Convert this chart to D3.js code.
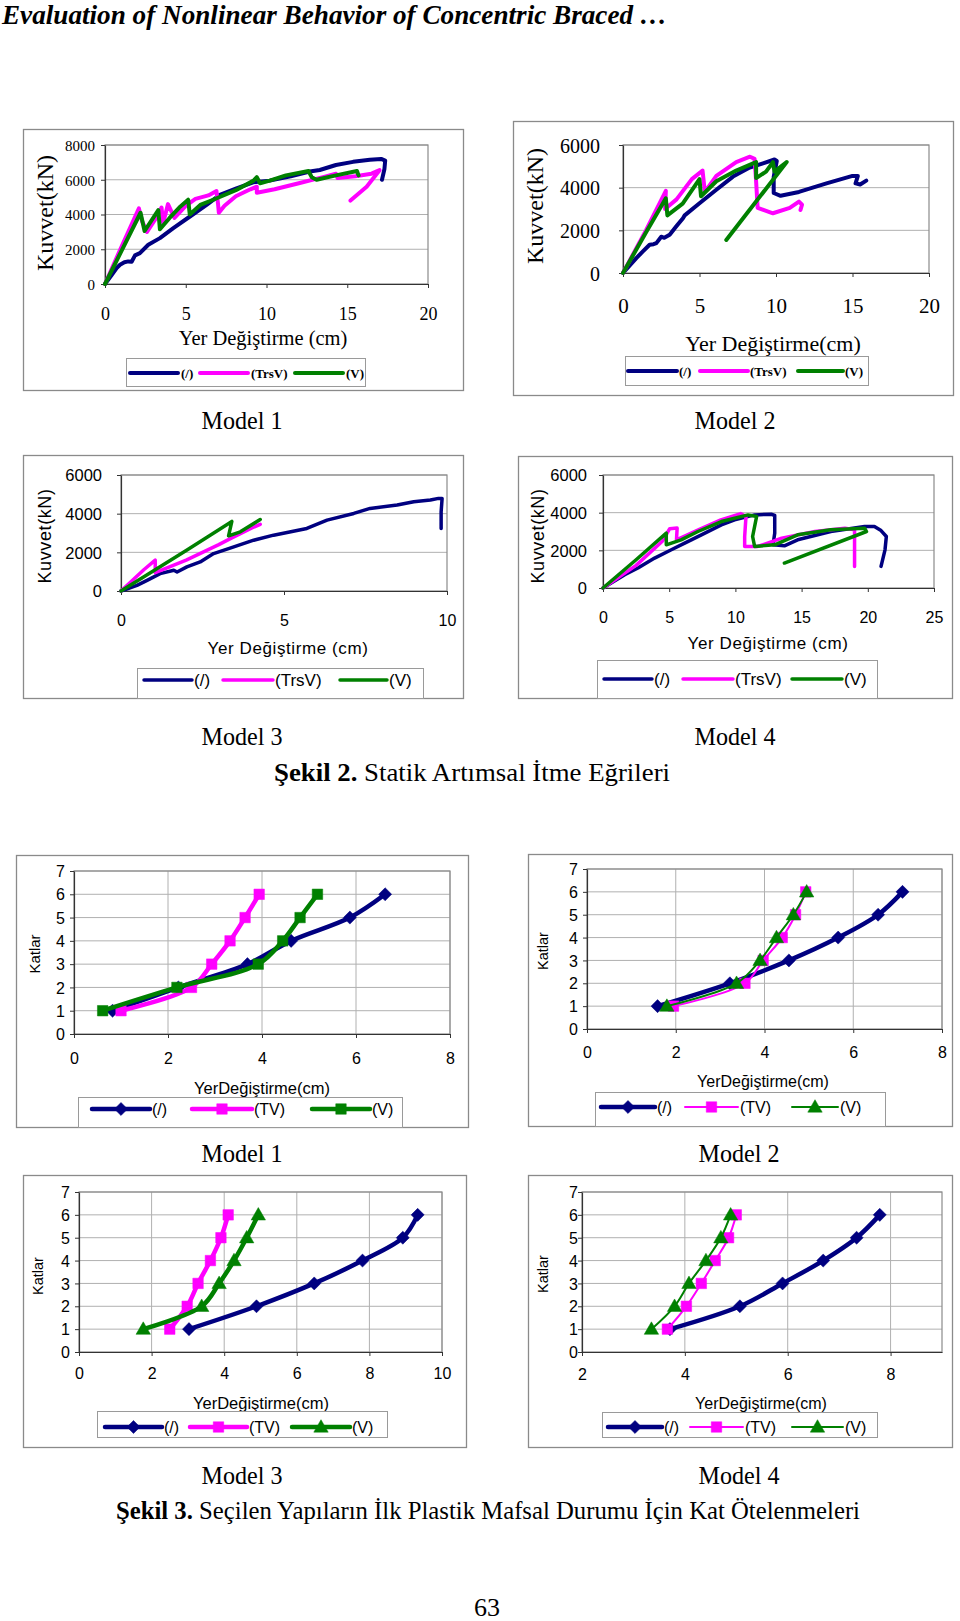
<!DOCTYPE html>
<html><head><meta charset="utf-8">
<script src="https://cdn.jsdelivr.net/npm/d3@7"></script>
<style>body{margin:0;background:#fff}svg{display:block}</style>
</head><body>
<svg id="c" width="960" height="1621"></svg>
<script>
// ---------- DATA ----------
const seriesNames = ["(/)", "(TrsV)", "(V)"];
const seriesNamesTV = ["(/)", "(TV)", "(V)"];
const colors = ["#000080", "#ff00ff", "#008000"];

// Pushover curves: [displacement (cm), force (kN)]
const m1Diag = [[0,0],[0.4,500],[0.72,920],[0.93,1110],[1.2,1250],[1.44,1300],[1.65,1280],[1.86,1650],[2.16,1780],[2.68,2260],[3.4,2640],[4.23,3215],[5.26,3885],[6.29,4555],[7.11,5130],[8.14,5510],[9.18,5850],[10.2,5950],[11.5,6200],[12.68,6470],[13.3,6560],[14.3,6850],[15.36,7030],[16.4,7150],[17.1,7200],[17.35,7100],[17.3,6600],[17.15,6000]];
const m1TrsV = [[0,0],[1.0,2100],[2.1,4350],[2.3,3600],[2.6,3000],[3.1,3700],[3.5,4400],[3.6,3500],[3.9,4600],[4.3,3800],[5.0,4500],[5.6,4900],[6.4,5100],[6.9,5350],[7.0,4600],[7.05,4100],[7.4,4500],[8.1,5050],[9.0,5450],[9.4,5600],[9.4,5250],[10.5,5450],[12,5800],[13.5,6150],[14.3,6350],[14.4,6100],[15.5,6200],[16.5,6350],[17.0,6550],[16.2,5600],[15.2,4800]];
const m1V = [[0,0],[1.1,2050],[2.2,4100],[2.45,3050],[3.3,4250],[3.4,3150],[4.0,3800],[4.6,4400],[5.15,4850],[5.25,4000],[5.9,4550],[6.7,4850],[8.1,5400],[9.2,5950],[9.4,6150],[9.6,5800],[10.2,5950],[11.2,6250],[12.6,6500],[12.8,6150],[13.1,6000],[14.3,6250],[15.6,6500],[15.7,6250]];

const m2Diag = [[0,0],[0.87,700],[1.3,1010],[1.74,1325],[2.0,1350],[2.18,1400],[2.5,1700],[2.7,1650],[3.05,1790],[3.5,2200],[3.92,2570],[4.03,2700],[5.0,3270],[6.1,3900],[7.19,4520],[8.28,4940],[9.15,5140],[9.9,5320],[10.05,5250],[9.85,4500],[9.85,3750],[10.3,3620],[11.5,3800],[13.3,4200],[15.0,4550],[15.35,4550],[15.2,4200],[15.5,4150],[15.9,4330]];
const m2TrsV = [[0,0],[1.5,2000],[2.8,3850],[2.75,3000],[3.5,3450],[4.5,4400],[5.2,4800],[5.35,3800],[6.1,4550],[7.4,5200],[8.3,5450],[8.6,5350],[8.7,4300],[8.8,3050],[9.8,2800],[10.9,3050],[11.5,3350],[11.7,3200],[11.6,2950]];
const m2V = [[0,0],[1.5,1900],[2.8,3500],[2.9,2700],[3.9,3250],[5.0,4400],[5.1,3600],[6.1,4300],[7.4,4800],[8.7,5200],[8.7,4450],[9.35,4750],[9.8,5200],[9.9,4750],[10.7,5200],[6.75,1550]];

const m3Diag = [[0,0],[0.49,294],[0.8,553],[1.2,900],[1.62,1072],[1.72,985],[2.02,1245],[2.43,1504],[2.84,1937],[3.46,2283],[4.07,2628],[4.68,2888],[5.7,3234],[6.32,3666],[7.14,4012],[7.64,4271],[8.47,4444],[8.98,4617],[9.49,4703],[9.74,4790],[9.85,4790],[9.82,4098],[9.82,3234]];
const m3TrsV = [[0,0],[0.7,1100],[1.05,1600],[1.05,950],[2.0,1600],[3.0,2400],[3.4,2750],[4.0,3250],[4.27,3450]];
const m3V = [[0,0],[1.0,1050],[2.0,2100],[3.4,3600],[3.3,2850],[3.66,3060],[4.27,3700]];

const m4Diag = [[0,0],[1.64,706],[2.64,1059],[3.9,1588],[5.16,2029],[6.17,2382],[7.43,2824],[8.94,3353],[9.94,3618],[11.45,3882],[12.7,3920],[12.97,3850],[12.97,2912],[12.84,2294],[13.7,2241],[14.7,2559],[17.2,3000],[19.76,3265],[20.5,3265],[21.0,3050],[21.4,2735],[21.3,2029],[21.0,1147]];
const m4TrsV = [[0,0],[2.5,1200],[4.5,2500],[5.04,3150],[5.6,3180],[5.55,2560],[7.2,3088],[8.9,3618],[10.4,3950],[10.8,3800],[10.7,2735],[10.7,2206],[11.7,2206],[13.5,2647],[16.0,3000],[18.27,3176],[19.0,3088],[19.0,2382],[19.0,1147]];
const m4V = [[0,0],[2.5,1500],[4.78,2912],[4.78,2294],[5.9,2559],[7.17,3000],[8.94,3529],[10.95,3882],[11.6,3794],[11.3,2735],[11.45,2206],[12.97,2294],[14.7,2824],[17.2,3088],[19.76,3176],[19.9,3000],[13.7,1324]];

// Story drifts: stories and displacement (cm) per story
const stories = [1,2,3,4,5,6];
const d1Diag = [0.82,2.22,3.69,4.62,5.87,6.62];
const d1TV   = [1.0,2.5,2.93,3.32,3.64,3.94];
const d1V    = [0.61,2.19,3.92,4.44,4.81,5.18];
const d2Diag = [1.59,3.22,4.55,5.66,6.56,7.11];
const d2TV   = [1.95,3.56,3.97,4.4,4.7,4.93];
const d2V    = [1.8,3.37,3.9,4.27,4.65,4.95];
const d3Diag = [3.03,4.89,6.48,7.81,8.92,9.33];
const d3TV   = [2.5,2.98,3.28,3.62,3.91,4.11];
const d3V    = [1.77,3.38,3.86,4.27,4.62,4.94];
const d4Diag = [3.71,5.07,5.9,6.69,7.34,7.79];
const d4TV   = [3.66,4.03,4.32,4.59,4.85,5.0];
const d4V    = [3.35,3.8,4.08,4.41,4.7,4.89];

const forceTicks8000 = [0,2000,4000,6000,8000];
const forceTicks6000 = [0,2000,4000,6000];
const storyTicks = [0,1,2,3,4,5,6,7];

// ---------- DRAWING ----------
const svg = d3.select("#c");
const SERIF = "'Liberation Serif','Times New Roman',serif";
const SANS = "'Liberation Sans',Arial,sans-serif";

function marker(g, type, cx, cy, color) {
  if (type === "diamond") {
    g.append("path").attr("d", d3.symbol(d3.symbolSquare, 85)())
      .attr("transform", `translate(${cx},${cy}) rotate(45)`).attr("fill", color).attr("stroke", color).attr("stroke-width", 0.5);
  } else if (type === "square") {
    g.append("path").attr("d", d3.symbol(d3.symbolSquare, 110)())
      .attr("transform", `translate(${cx},${cy})`).attr("fill", color).attr("stroke", color).attr("stroke-width", 0.5);
  } else if (type === "triangle") {
    g.append("path").attr("d", d3.symbol(d3.symbolTriangle, 90)())
      .attr("transform", `translate(${cx},${cy+1})`).attr("fill", color).attr("stroke", color).attr("stroke-width", 0.5);
  }
}

function panel(c) {
  const g = svg.append("g");
  const [bx0, by0, bx1, by1] = c.box;
  g.append("rect").attr("x", bx0 + 0.5).attr("y", by0 + 0.5).attr("width", bx1 - bx0).attr("height", by1 - by0)
    .attr("fill", "#fff").attr("stroke", "#8a8a8a").attr("stroke-width", 1.3);
  const [L, T, R, B] = c.plot;
  const x = d3.scaleLinear().domain(c.xDomain).range([L, R]);
  const y = d3.scaleLinear().domain(c.yDomain).range([B, T]);

  // grid
  g.selectAll(null).data(c.yTicks.filter(v => v !== c.yDomain[0])).join("line")
    .attr("x1", L).attr("x2", R).attr("y1", d => y(d)).attr("y2", d => y(d))
    .attr("stroke", "#b0b0b0").attr("stroke-width", 1);
  if (c.vgrid) {
    g.selectAll(null).data(c.xTicks.filter(v => v !== c.xDomain[0])).join("line")
      .attr("y1", T).attr("y2", B).attr("x1", d => x(d)).attr("x2", d => x(d))
      .attr("stroke", "#b0b0b0").attr("stroke-width", 1);
  }
  g.append("rect").attr("x", L).attr("y", T).attr("width", R - L).attr("height", B - T)
    .attr("fill", "none").attr("stroke", "#8a8a8a").attr("stroke-width", 1.2);

  // axes
  const ax = g.append("g").attr("transform", `translate(0,${B})`)
    .call(d3.axisBottom(x).tickValues(c.xTicks).tickSize(4).tickSizeOuter(0).tickFormat(d3.format("d")));
  ax.select(".domain").attr("stroke", "#333").attr("stroke-width", 1.2);
  ax.selectAll(".tick line").attr("stroke", "#333");
  ax.selectAll("text").attr("y", c.xTickY - B).attr("dy", "0.35em").attr("fill", "#000")
    .style("font-family", c.font).style("font-size", c.xTickFs + "px");
  const ay = g.append("g").attr("transform", `translate(${L},0)`)
    .call(d3.axisLeft(y).tickValues(c.yTicks).tickSize(4).tickSizeOuter(0).tickFormat(d3.format("d")));
  ay.select(".domain").attr("stroke", "#333").attr("stroke-width", 1.2);
  ay.selectAll(".tick line").attr("stroke", "#333");
  ay.selectAll("text").attr("x", c.yTickRight - L).attr("dy", "0.35em").attr("fill", "#000")
    .style("font-family", c.font).style("font-size", c.yTickFs + "px");

  // series
  c.series.forEach(s => {
    const line = d3.line().x(d => x(d[0])).y(d => y(d[1])).curve(s.curve || d3.curveLinear);
    g.append("path").datum(s.data).attr("d", line).attr("fill", "none")
      .attr("stroke", s.color).attr("stroke-width", s.w)
      .attr("stroke-linejoin", "round").attr("stroke-linecap", "round");
    if (s.marker) s.data.forEach(d => marker(g, s.marker, x(d[0]), y(d[1]), s.color));
  });

  // axis titles
  g.append("text").attr("x", c.xLabel[1]).attr("y", c.xLabel[2]).attr("dy", "0.35em")
    .attr("text-anchor", "middle").style("font-family", c.font).style("font-size", c.xLabelFs + "px")
    .style("letter-spacing", (c.ls || 0) + "px").text(c.xLabel[0]);
  g.append("text").attr("transform", `translate(${c.yLabel[1]},${c.yLabel[2]}) rotate(-90)`).attr("dy", "0.35em")
    .attr("text-anchor", "middle").style("font-family", c.font).style("font-size", c.yLabelFs + "px")
    .style("letter-spacing", (c.ls || 0) + "px").text(c.yLabel[0]);

  // legend
  const [lx0, ly0, lx1, ly1] = c.legendBox;
  g.append("rect").attr("x", lx0 + 0.5).attr("y", ly0 + 0.5).attr("width", lx1 - lx0).attr("height", ly1 - ly0)
    .attr("fill", "#fff").attr("stroke", "#9a9a9a").attr("stroke-width", 1);
  c.legend.forEach((e, i) => {
    const s = c.series[i];
    g.append("line").attr("x1", e[0]).attr("x2", e[1]).attr("y1", c.legendY).attr("y2", c.legendY)
      .attr("stroke", s.color).attr("stroke-width", s.w).attr("stroke-linecap", "round");
    if (s.marker) marker(g, s.marker, (e[0] + e[1]) / 2, c.legendY, s.color);
    g.append("text").attr("x", e[2]).attr("y", c.legendY).attr("dy", "0.35em")
      .style("font-family", c.font).style("font-size", c.legendFs + "px")
      .style("font-weight", c.legendBold ? "bold" : "normal").text(s.name);
  });
}

function pushSeries(arrs, w) {
  return arrs.map((a, i) => ({ name: seriesNames[i], data: a, color: colors[i], w: w }));
}
function driftSeries(arrs, widths, markers) {
  return arrs.map((a, i) => ({ name: seriesNamesTV[i], data: a.map((v, k) => [v, stories[k]]),
    color: colors[i], w: widths[i], marker: markers[i], curve: d3.curveCatmullRom.alpha(0.5) }));
}

// ---- Şekil 2 panels ----
panel({ box: [23,129,463,390], plot: [105,145,428,284], xDomain: [0,20], xTicks: [0,5,10,15,20],
  yDomain: [0,8000], yTicks: forceTicks8000, font: SERIF, xTickFs: 18, xTickY: 314, yTickFs: 15, yTickRight: 95,
  xLabel: ["Yer Değiştirme (cm)", 263, 338], xLabelFs: 20.5, yLabel: ["Kuvvet(kN)", 45, 213], yLabelFs: 24,
  series: pushSeries([m1Diag, m1TrsV, m1V], 4),
  legendBox: [126,358,365,386], legendY: 373, legendFs: 13, legendBold: true,
  legend: [[130,178,181],[200,248,251],[295,343,346]] });

panel({ box: [513,121,953,395], plot: [623,145,929,273], xDomain: [0,20], xTicks: [0,5,10,15,20],
  yDomain: [0,6000], yTicks: forceTicks6000, font: SERIF, xTickFs: 21, xTickY: 306, yTickFs: 20, yTickRight: 600,
  xLabel: ["Yer Değiştirme(cm)", 773, 343], xLabelFs: 22, yLabel: ["Kuvvet(kN)", 535, 206], yLabelFs: 24,
  series: pushSeries([m2Diag, m2TrsV, m2V], 4),
  legendBox: [625,356,868,385], legendY: 371, legendFs: 13, legendBold: true,
  legend: [[628,677,679],[700,748,750],[798,843,845]] });

panel({ box: [23,455,463,698], plot: [121,475,447,591], xDomain: [0,10], xTicks: [0,5,10],
  yDomain: [0,6000], yTicks: forceTicks6000, font: SANS, xTickFs: 16, xTickY: 620, yTickFs: 16.5, yTickRight: 102,
  xLabel: ["Yer Değiştirme (cm)", 288, 648], xLabelFs: 17, ls: 0.6, yLabel: ["Kuvvet(kN)", 45, 536], yLabelFs: 18,
  series: pushSeries([m3Diag, m3TrsV, m3V], 3.5),
  legendBox: [137,668,423,698], legendY: 680, legendFs: 17, legendBold: false,
  legend: [[144,192,194],[223,273,275],[340,387,389]] });

panel({ box: [518,456,952,698], plot: [603,475,934,588], xDomain: [0,25], xTicks: [0,5,10,15,20,25],
  yDomain: [0,6000], yTicks: forceTicks6000, font: SANS, xTickFs: 16, xTickY: 617, yTickFs: 16.5, yTickRight: 587,
  xLabel: ["Yer Değiştirme (cm)", 768, 643], xLabelFs: 17, ls: 0.6, yLabel: ["Kuvvet(kN)", 538, 536], yLabelFs: 18,
  series: pushSeries([m4Diag, m4TrsV, m4V], 3.5),
  legendBox: [597,660,877,698], legendY: 679, legendFs: 17, legendBold: false,
  legend: [[604,652,654],[683,733,735],[792,842,844]] });

// ---- Şekil 3 panels ----
panel({ box: [16,855,468,1127], plot: [74,871,450,1034], xDomain: [0,8], xTicks: [0,2,4,6,8], vgrid: true,
  yDomain: [0,7], yTicks: storyTicks, font: SANS, xTickFs: 16, xTickY: 1058, yTickFs: 16, yTickRight: 65,
  xLabel: ["YerDeğiştirme(cm)", 262, 1088], xLabelFs: 16.5, yLabel: ["Katlar", 35, 954], yLabelFs: 15,
  series: driftSeries([d1Diag, d1TV, d1V], [4.5,4.5,4.5], ["diamond","square","square"]),
  legendBox: [78,1097,402,1127], legendY: 1109, legendFs: 16, legendBold: false,
  legend: [[92,150,152],[192,252,254],[312,370,372]] });

panel({ box: [528,854,952,1126], plot: [587,869,942,1029], xDomain: [0,8], xTicks: [0,2,4,6,8], vgrid: true,
  yDomain: [0,7], yTicks: storyTicks, font: SANS, xTickFs: 16, xTickY: 1052, yTickFs: 16, yTickRight: 578,
  xLabel: ["YerDeğiştirme(cm)", 763, 1081], xLabelFs: 16, yLabel: ["Katlar", 543, 951], yLabelFs: 14.5,
  series: driftSeries([d2Diag, d2TV, d2V], [4.5,2,2], ["diamond","square","triangle"]),
  legendBox: [595,1092,885,1126], legendY: 1107, legendFs: 16, legendBold: false,
  legend: [[601,655,657],[685,738,740],[792,838,840]] });

panel({ box: [23,1175,466,1447], plot: [79,1192,442,1352], xDomain: [0,10], xTicks: [0,2,4,6,8,10], vgrid: true,
  yDomain: [0,7], yTicks: storyTicks, font: SANS, xTickFs: 16, xTickY: 1373, yTickFs: 16, yTickRight: 70,
  xLabel: ["YerDeğiştirme(cm)", 261, 1403], xLabelFs: 16.5, yLabel: ["Katlar", 38, 1276], yLabelFs: 14.5,
  series: driftSeries([d3Diag, d3TV, d3V], [4.5,4.5,4.5], ["diamond","square","triangle"]),
  legendBox: [97,1411,387,1437], legendY: 1427, legendFs: 16, legendBold: false,
  legend: [[105,162,164],[190,247,249],[292,350,352]] });

panel({ box: [528,1175,952,1447], plot: [582,1192,942,1352], xDomain: [2,9], xTicks: [2,4,6,8], vgrid: true,
  yDomain: [0,7], yTicks: storyTicks, font: SANS, xTickFs: 16, xTickY: 1374, yTickFs: 16, yTickRight: 578,
  xLabel: ["YerDeğiştirme(cm)", 761, 1403], xLabelFs: 16, yLabel: ["Katlar", 543, 1274], yLabelFs: 14.5,
  series: driftSeries([d4Diag, d4TV, d4V], [4.5,2,2], ["diamond","square","triangle"]),
  legendBox: [602,1412,877,1437], legendY: 1427, legendFs: 16, legendBold: false,
  legend: [[608,662,664],[690,743,745],[792,843,845]] });

// ---------- PAGE TEXT ----------
svg.append("text").attr("x", 2).attr("y", 24).attr("textLength", 665).attr("lengthAdjust", "spacingAndGlyphs")
  .style("font-family", SERIF).style("font-size", "27px").style("font-weight", "bold").style("font-style", "italic")
  .text("Evaluation of Nonlinear Behavior of Concentric Braced …");

const modelLabels = [["Model 1",242,429],["Model 2",735,429],["Model 3",242,745],["Model 4",735,745],
                     ["Model 1",242,1162],["Model 2",739,1162],["Model 3",242,1484],["Model 4",739,1484]];
modelLabels.forEach(m => svg.append("text").attr("x", m[1]).attr("y", m[2]).attr("text-anchor", "middle")
  .attr("textLength", 81).attr("lengthAdjust", "spacingAndGlyphs")
  .style("font-family", SERIF).style("font-size", "26px").text(m[0]));

function caption(cx, yb, bold, rest, len) {
  const t = svg.append("text").attr("x", cx).attr("y", yb).attr("text-anchor", "middle")
    .attr("textLength", len).attr("lengthAdjust", "spacingAndGlyphs")
    .style("font-family", SERIF).style("font-size", "26px");
  t.append("tspan").style("font-weight", "bold").text(bold);
  t.append("tspan").text(rest);
}
caption(472, 781, "Şekil 2.", " Statik Artımsal İtme Eğrileri", 396);
caption(488, 1519, "Şekil 3.", " Seçilen Yapıların İlk Plastik Mafsal Durumu İçin Kat Ötelenmeleri", 744);

svg.append("text").attr("x", 487).attr("y", 1616).attr("text-anchor", "middle")
  .style("font-family", SERIF).style("font-size", "26px").attr("textLength", 26).attr("lengthAdjust", "spacingAndGlyphs").text("63");
</script>
</body></html>
